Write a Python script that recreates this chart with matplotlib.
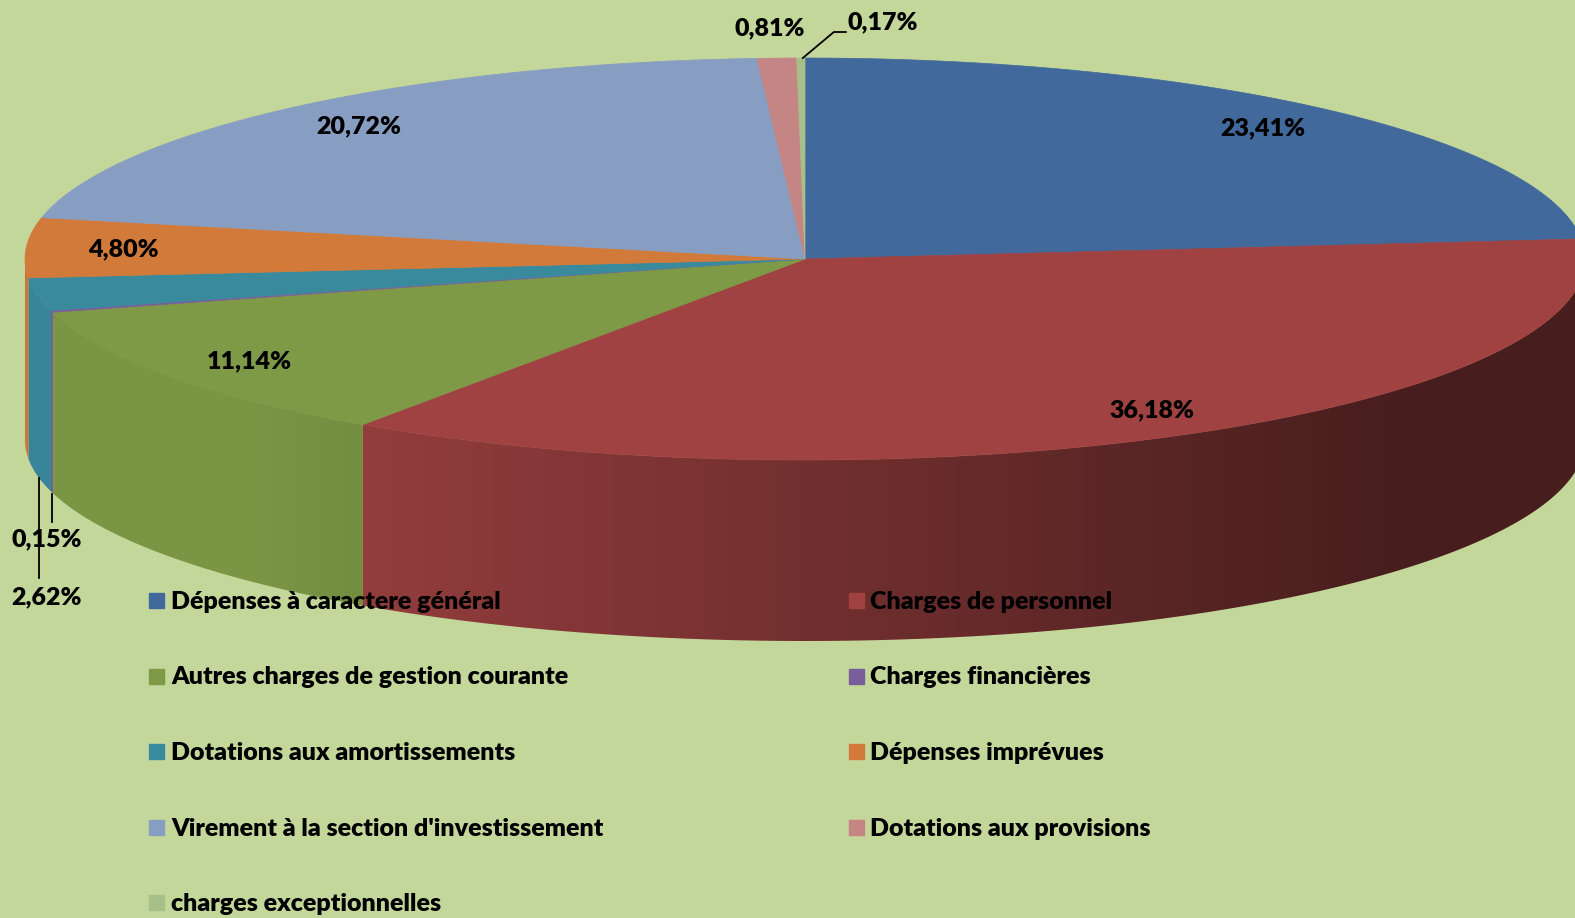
import numpy as np
import matplotlib.pyplot as plt
from matplotlib.patches import Polygon
import matplotlib.colors as mcolors

categories = ["Dépenses à caractere général", "Charges de personnel",
              "Autres charges de gestion courante", "Charges financières",
              "Dotations aux amortissements", "Dépenses imprévues",
              "Virement à la section d'investissement", "Dotations aux provisions",
              "charges exceptionnelles"]
values = [23.41, 36.18, 11.14, 0.15, 2.62, 4.80, 20.72, 0.81, 0.17]
colors = ["#41699C", "#A04242", "#7E9A47", "#7A5E9C", "#3A8A9E",
          "#D17A3A", "#889DC2", "#C48584", "#A6C088"]
pct_labels = [("%.2f%%" % v).replace(".", ",") for v in values]

bg = "#C4D79B"
W, H = 1575, 918
CX, CY, RX, RY, DEPTH = 805, 259, 780, 201, 181

fig = plt.figure(figsize=(15.75, 9.18), dpi=100)
fig.patch.set_facecolor(bg)
ax = fig.add_axes([0, 0, 1, 1])
ax.set_facecolor(bg)

def pt(t, r=1.0, dz=0.0):
    t = np.radians(t)
    return CX + r * RX * np.cos(t), CY - r * RY * np.sin(t) + dz

# slice edges, clockwise from 12 o'clock
cum = np.concatenate([[0], np.cumsum(values)])
edges = 90 - cum / cum[-1] * 360

# side shading: darker towards the right
xs = np.linspace(0, W, 800)
cm = (xs - CX) / RX
fac = np.clip(0.92 - 0.47 * (cm + 0.567) / 1.33, 0.45, 0.97)

# outer walls (front half only), gradient clipped to each wall
for i, c in enumerate(colors):
    a0, a1 = edges[i], edges[i + 1]
    lo, hi = max(a1, -180), min(a0, 0)
    if hi <= lo:
        continue
    ts = np.linspace(hi, lo, max(4, int((hi - lo) * 2)))
    top = [pt(t) for t in ts]
    bot = [pt(t, dz=DEPTH) for t in ts[::-1]]
    wall = Polygon(top + bot, closed=True, fc="none", ec="none")
    ax.add_patch(wall)
    img = np.array(mcolors.to_rgb(c))[None, None, :] * fac[None, :, None]
    im = ax.imshow(img, extent=[0, W, H, 0], aspect="auto",
                   interpolation="bilinear", zorder=1)
    im.set_clip_path(wall)

# top faces
for i, c in enumerate(colors):
    a0, a1 = edges[i], edges[i + 1]
    n = max(3, int(abs(a0 - a1) * 2))
    arc = [pt(t) for t in np.linspace(a0, a1, n)]
    ax.add_patch(Polygon([(CX, CY)] + arc, closed=True, fc=c, ec=c, lw=0.5, zorder=2))

ax.set_xlim(0, W)
ax.set_ylim(H, 0)
ax.axis("off")

# data labels
font = dict(family=["Lato", "DejaVu Sans"], weight="heavy", size=18, color="black")
mids = (edges[:-1] + edges[1:]) / 2
for i, lab in enumerate(pct_labels):
    if values[i] >= 4:
        x, y = pt(mids[i], r=0.875)
        ax.text(x, y, lab, ha="center", va="center", zorder=5, **font)

# small slices
x, y = pt(mids[7])
ax.text(x - 7, y - 30, pct_labels[7], ha="center", va="center", zorder=5, **font)

x, y = pt(mids[8])
ax.plot([x + 2, x + 33, x + 45], [y, y - 26, y - 26], color="black", lw=1.3, zorder=5)
ax.text(x + 47, y - 36, pct_labels[8], ha="left", va="center", zorder=5, **font)

x, y = pt(mids[3], dz=DEPTH)
ax.plot([x, x], [y + 2, y + 30], color="black", lw=1.3, zorder=5)
ax.text(47, 539, pct_labels[3], ha="center", va="center", zorder=5, **font)

x, y = pt(mids[4], dz=DEPTH)
ax.plot([x + 2, x + 2], [y + 3, y + 103], color="black", lw=1.3, zorder=5)
ax.text(47, 597, pct_labels[4], ha="center", va="center", zorder=5, **font)

# legend, two columns, row-wise
for i, (cat, c) in enumerate(zip(categories, colors)):
    col, row = i % 2, i // 2
    lx = 156 + col * 699.5
    ly = 600 + row * 75.5
    ax.plot(lx, ly, marker="s", ms=10.8, color=c, mec=c, ls="none", zorder=6)
    ax.text(lx + 15, ly + 9, cat, ha="left", va="baseline", zorder=6, **font)

fig.savefig("out.png", dpi=100, facecolor=bg)
